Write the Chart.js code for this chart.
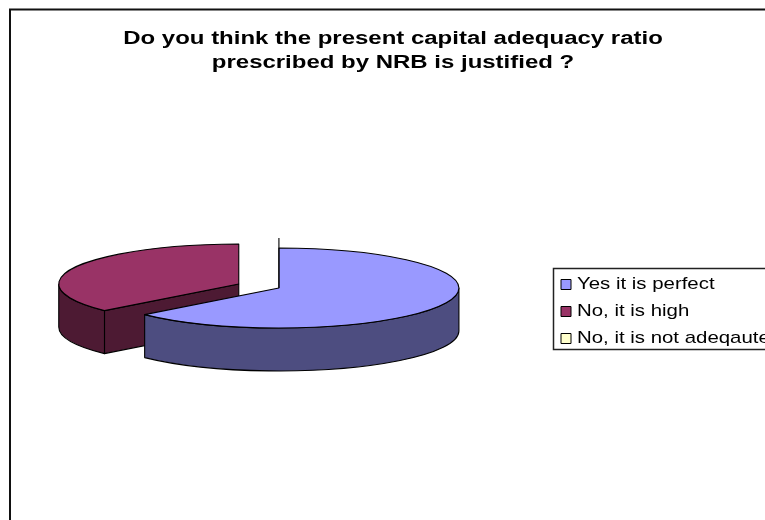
<!DOCTYPE html>
<html>
<head>
<meta charset="utf-8">
<style>html,body{margin:0;padding:0;background:#fff}canvas{display:block}</style>
<script src="https://cdn.jsdelivr.net/npm/chart.js@4"></script>
</head>
<body>
<canvas id="c" width="765" height="520"></canvas>
<script>
const titleLines = ["Do you think the present capital adequacy ratio", "prescribed by NRB is justified ?"];
const categories = ["Yes it is perfect", "No, it is high", "No, it is not adeqaute"];
const values = [63.4, 36.6, 0];
const topColors = ["#9999FF", "#993366", "#FFFFCC"];
const wallColors = ["#4D4D80", "#4D1A33", "#808066"];
const explodedSlice = 1;

const TILT = 40 / 180, DEPTH = 43, EXPLODE = 44, SPIKE = 10;
const TITLE_STRETCH = 1.37, LEGEND_STRETCH = 1.2;
const FONT = "'Liberation Sans', Arial, sans-serif";

// The reference's text is horizontally stretched; reproduce that while each box draws.
function stretchTitle(box) {
  if (box._wrapped) return;
  box._wrapped = true;
  const draw = box.draw;
  box.draw = function (area) {
    const ctx = this.ctx;
    ctx.save();
    ctx.translate(393, 0);
    ctx.scale(TITLE_STRETCH, 1);
    ctx.translate(-(this.left + this.right) / 2, 0);
    draw.call(this, area);
    ctx.restore();
  };
}
function stretchLegendText(box) {
  if (box._wrapped) return;
  box._wrapped = true;
  const draw = box.draw;
  box.draw = function (area) {
    const ctx = this.ctx;
    const native = ctx.fillText;
    ctx.fillText = function (t, x, y) {
      ctx.save();
      ctx.translate(x - 2.5, 0);
      ctx.scale(LEGEND_STRETCH, 1);
      native.call(ctx, t, 0, y);
      ctx.restore();
    };
    draw.call(this, area);
    delete ctx.fillText;
  };
}

const pie3d = {
  id: "pie3d",
  afterLayout(chart) {
    const l = chart.legend;
    l.left = 551; l.top = 266; l.right = 790; l.bottom = 520;
    stretchLegendText(l);
    stretchTitle(chart.titleBlock);
  },
  beforeDraw(chart) {
    const ctx = chart.ctx;
    ctx.save();
    ctx.strokeStyle = "#111"; ctx.lineWidth = 2;
    ctx.beginPath();
    ctx.moveTo(10, 520); ctx.lineTo(10, 9.5); ctx.lineTo(765, 9.5);
    ctx.stroke();
    ctx.lineWidth = 1.5; ctx.strokeStyle = "#222";
    ctx.strokeRect(553.5, 268.5, 240, 81);
    ctx.restore();
  },
  beforeDatasetDraw(chart, args) {
    const ctx = chart.ctx, arcs = args.meta.data;
    const geo = arcs.map((arc, i) => {
      const mid = (arc.startAngle + arc.endAngle) / 2;
      const e = i === explodedSlice ? EXPLODE : 0;
      return { arc, i, a0: arc.startAngle, a1: arc.endAngle, r: arc.outerRadius,
        cx: arc.x + Math.cos(mid) * e,
        cy: arc.y + Math.sin(mid) * e * TILT };
    }).filter(g => g.a1 - g.a0 > 0);
    const order = geo.slice().sort((a, b) => (a.i === explodedSlice ? -1 : 0) - (b.i === explodedSlice ? -1 : 0));
    ctx.save();
    ctx.strokeStyle = "#000"; ctx.lineWidth = 1.1; ctx.lineJoin = "round";
    for (const g of order) {
      const ry = g.r * TILT;
      if (g.i === explodedSlice) {
        const px = g.cx + Math.cos(g.a0) * g.r, py = g.cy + Math.sin(g.a0) * ry;
        ctx.beginPath();
        ctx.moveTo(g.cx, g.cy); ctx.lineTo(px, py);
        ctx.lineTo(px, py + DEPTH); ctx.lineTo(g.cx, g.cy + DEPTH);
        ctx.closePath();
        ctx.fillStyle = wallColors[g.i]; ctx.fill(); ctx.stroke();
      }
      const a = Math.max(g.a0, 0), b = Math.min(g.a1, Math.PI);
      if (b > a) {
        ctx.beginPath();
        ctx.ellipse(g.cx, g.cy, g.r, ry, 0, a, b);
        ctx.ellipse(g.cx, g.cy + DEPTH, g.r, ry, 0, b, a, true);
        ctx.closePath();
        ctx.fillStyle = wallColors[g.i]; ctx.fill(); ctx.stroke();
      }
      ctx.save();
      ctx.translate(g.cx, g.cy);
      ctx.scale(1, TILT);
      ctx.translate(-g.arc.x, -g.arc.y);
      g.arc.draw(ctx);
      ctx.restore();
      ctx.beginPath();
      ctx.moveTo(g.cx, g.cy);
      ctx.ellipse(g.cx, g.cy, g.r, ry, 0, g.a0, g.a1);
      ctx.closePath();
      ctx.stroke();
      if (g.i === 0) {
        ctx.beginPath();
        ctx.moveTo(g.cx, g.cy);
        ctx.lineTo(g.cx, g.cy - ry - SPIKE);
        ctx.stroke();
      }
    }
    ctx.restore();
    return false;
  }
};

new Chart(document.getElementById("c"), {
  type: "pie",
  plugins: [pie3d],
  data: {
    labels: categories,
    datasets: [{ data: values, backgroundColor: topColors, borderWidth: 0, hoverOffset: 0, radius: 180 }]
  },
  options: {
    responsive: false,
    animation: false,
    events: [],
    layout: { padding: { left: 22, right: 30, top: 0, bottom: 19.5 } },
    plugins: {
      tooltip: { enabled: false },
      title: {
        display: true,
        text: titleLines,
        color: "#000",
        font: { family: FONT, size: 17.5, weight: "bold", lineHeight: 1.37 },
        padding: { top: 27.5, bottom: 0 }
      },
      legend: {
        display: true,
        position: "right",
        align: "start",
        labels: {
          boxWidth: 10, boxHeight: 10, padding: 10, color: "#000",
          font: { family: FONT, size: 17 },
          generateLabels(chart) {
            return Chart.overrides.pie.plugins.legend.labels.generateLabels(chart).map(it =>
              Object.assign(it, { strokeStyle: "#000", lineWidth: 1 }));
          }
        }
      }
    }
  }
});
</script>
</body>
</html>
